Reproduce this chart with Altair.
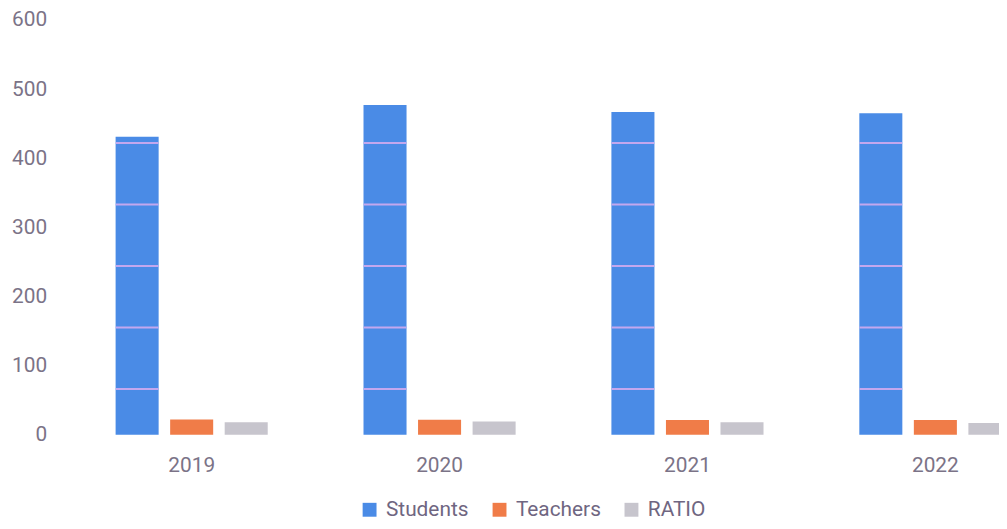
import altair as alt
import pandas as pd

years = ["2019", "2020", "2021", "2022"]
series = ["Students", "Teachers", "RATIO"]
students = [431, 477, 467, 465]
teachers = [22, 21.5, 21, 21]
ratio = [18, 19, 18, 17]
stripe_levels = [66, 155, 244, 333, 422]
y_ticks = [0, 100, 200, 300, 400, 500, 600]
colors = ["#4a8be6", "#f07c48", "#c7c5cd"]

rows = []
for i, yr in enumerate(years):
    for s, vals in zip(series, [students, teachers, ratio]):
        rows.append({"year": yr, "series": s, "value": vals[i]})
df = pd.DataFrame(rows)

stripes = pd.DataFrame(
    [{"year": yr, "series": "Students", "value": lv} for yr in years for lv in stripe_levels]
)

FONT = "Roboto"
LABEL_COLOR = "#7b7387"

x_enc = alt.X(
    "year:N",
    sort=years,
    scale=alt.Scale(range=[0, 1016], paddingInner=0.3864, paddingOuter=0.226),
    axis=alt.Axis(title=None, labelAngle=0, ticks=False, domain=False, labelPadding=20,
                  labelFontSize=21, labelColor=LABEL_COLOR, labelFont=FONT),
)
xoff_enc = alt.XOffset("series:N", sort=series, scale=alt.Scale(paddingInner=0.211, paddingOuter=0))
y_enc = alt.Y(
    "value:Q",
    scale=alt.Scale(domain=[0, 600]),
    axis=alt.Axis(values=y_ticks, title=None, grid=False, ticks=False, domain=False,
                  labelPadding=13, labelFontSize=21, labelColor=LABEL_COLOR, labelFont=FONT),
)

bars = alt.Chart(df).mark_bar().encode(
    x=x_enc,
    xOffset=xoff_enc,
    y=y_enc,
    color=alt.Color(
        "series:N",
        sort=series,
        scale=alt.Scale(domain=series, range=colors),
        legend=alt.Legend(orient="none", legendX=302, legendY=483, direction="horizontal",
                          title=None, symbolType="square", symbolSize=196,
                          symbolStrokeWidth=0, labelFontSize=21, labelColor="#6f6681",
                          labelFont=FONT, labelOffset=6, columnPadding=20),
    ),
)

stripe_layer = alt.Chart(stripes).mark_tick(thickness=2, size=43, color="#c9a9ee", opacity=0.95).encode(
    x=alt.X("year:N", sort=years),
    xOffset=alt.XOffset("series:N", sort=series),
    y=alt.Y("value:Q"),
)

chart = (
    alt.layer(bars, stripe_layer)
    .properties(
        width=947,
        height=418,
        autosize=alt.AutoSizeParams(type="none"),
        padding={"left": 52, "top": 10, "right": 0, "bottom": 85},
    )
    .configure_view(stroke=None)
)

chart.save("out.html", embed_options={"renderer": "svg", "actions": False})
